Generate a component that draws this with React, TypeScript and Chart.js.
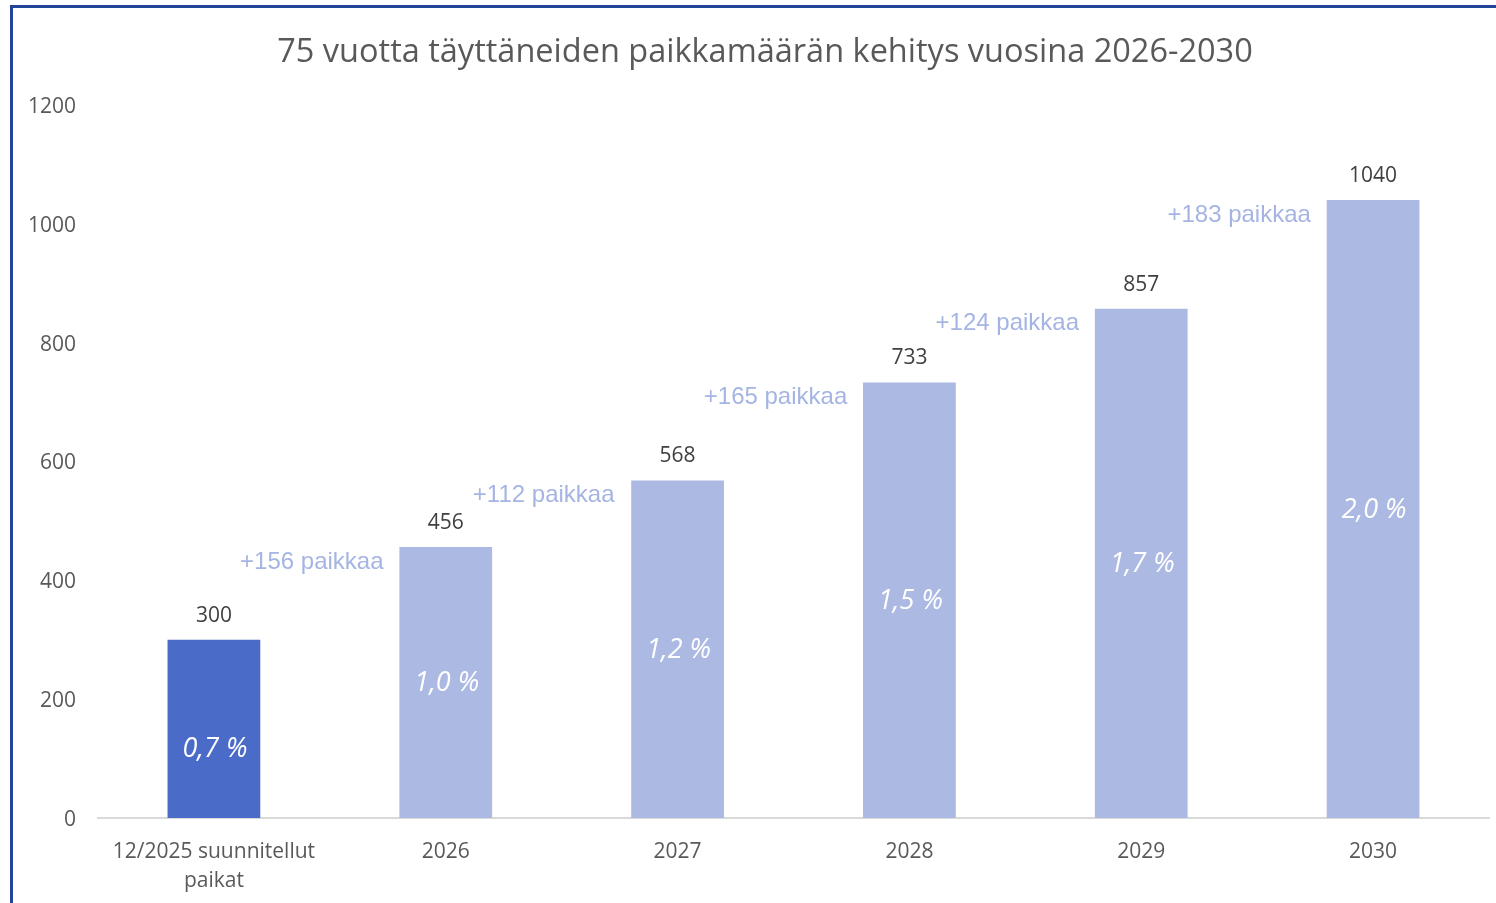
import React, { useEffect, useRef } from "react";
import { Chart, registerables } from "chart.js";

Chart.register(...registerables);

const categories: (string | string[])[] = [
  ["12/2025 suunnitellut", "paikat"],
  "2026",
  "2027",
  "2028",
  "2029",
  "2030",
];
const placeValues = [300, 456, 568, 733, 857, 1040];
const shareLabels = ["0,7 %", "1,0 %", "1,2 %", "1,5 %", "1,7 %", "2,0 %"];
const increaseLabels = ["+156 paikkaa", "+112 paikkaa", "+165 paikkaa", "+124 paikkaa", "+183 paikkaa"];
const titleText = "75 vuotta täyttäneiden paikkamäärän kehitys vuosina 2026-2030";

const barColors = ["#4A6BC8", "#ABB9E3", "#ABB9E3", "#ABB9E3", "#ABB9E3", "#ABB9E3"];
const FONT = "'Open Sans', 'Noto Sans', sans-serif";

const labelPlugin = {
  id: "labelPlugin",
  afterDatasetsDraw(chart: any) {
    const ctx = chart.ctx;
    const meta = chart.getDatasetMeta(0);
    const els = meta.data;
    ctx.save();
    ctx.textAlign = "center";
    ctx.textBaseline = "middle";
    // title
    ctx.fillStyle = "#595959";
    ctx.font = `32.5px ${FONT}`;
    ctx.fillText(titleText, 765, 53);
    // value labels
    ctx.fillStyle = "#404040";
    ctx.font = `21px ${FONT}`;
    els.forEach((el: any, i: number) => {
      ctx.fillText(String(placeValues[i]), el.x, el.y - 24);
    });
    // share labels
    ctx.fillStyle = "#FFFFFF";
    ctx.font = `italic 27px ${FONT}`;
    els.forEach((el: any, i: number) => {
      const off = i === 0 ? 20 : 1;
      ctx.fillText(shareLabels[i], el.x + 1, (el.y + el.base) / 2 + off);
    });
    // increase labels
    ctx.fillStyle = "#A5B4E3";
    ctx.font = `24px 'Liberation Sans', Arial, sans-serif`;
    increaseLabels.forEach((t, i) => {
      const a = els[i];
      const b = els[i + 1];
      const x = (a.x + b.x) / 2 - 18;
      const y = b.y + 15;
      ctx.fillText(t, x, y);
    });
    ctx.restore();
  },
};

export default function App() {
  const ref = useRef<HTMLCanvasElement>(null);
  useEffect(() => {
    if (!ref.current) return;
    const chart = new Chart(ref.current, {
      type: "bar",
      data: {
        labels: categories,
        datasets: [
          {
            data: placeValues,
            backgroundColor: barColors,
            borderWidth: 0,
            barPercentage: 0.8,
            categoryPercentage: 0.5,
          },
        ],
      },
      options: {
        responsive: false,
        animation: false,
        layout: { padding: { left: 0, right: 7, top: 105, bottom: 0 } },
        plugins: {
          legend: { display: false },
          tooltip: { enabled: false },
          title: { display: false },
        },
        scales: {
          x: {
            grid: { display: false, drawTicks: false },
            border: { display: true, color: "#D9D9D9", width: 2 },
            ticks: {
              color: "#595959",
              font: { family: FONT, size: 21, lineHeight: 1.4 },
              padding: 19,
              maxRotation: 0,
              autoSkip: false,
            },
            afterFit: (s: any) => {
              s.height = 85;
            },
          },
          y: {
            min: 0,
            max: 1200,
            grid: { display: false, drawTicks: false },
            border: { display: false },
            ticks: {
              stepSize: 200,
              color: "#595959",
              font: { family: FONT, size: 21 },
              padding: 22,
              labelOffset: 2,
              callback: (v: any) => String(v),
            },
            afterFit: (s: any) => {
              s.width = 98;
            },
          },
        },
      },
      plugins: [labelPlugin],
    });
    return () => chart.destroy();
  }, []);

  return (
    <div style={{ position: "fixed", left: 0, top: 0, width: 1496, height: 903, background: "#fff" }}>
      <canvas ref={ref} width={1496} height={903} style={{ position: "absolute", left: 0, top: 0 }} />
      <div
        style={{
          position: "absolute",
          left: 10,
          top: 5,
          right: 0,
          bottom: 0,
          borderTop: "3px solid #22449A",
          borderLeft: "3px solid #22449A",
          pointerEvents: "none",
        }}
      />
    </div>
  );
}
